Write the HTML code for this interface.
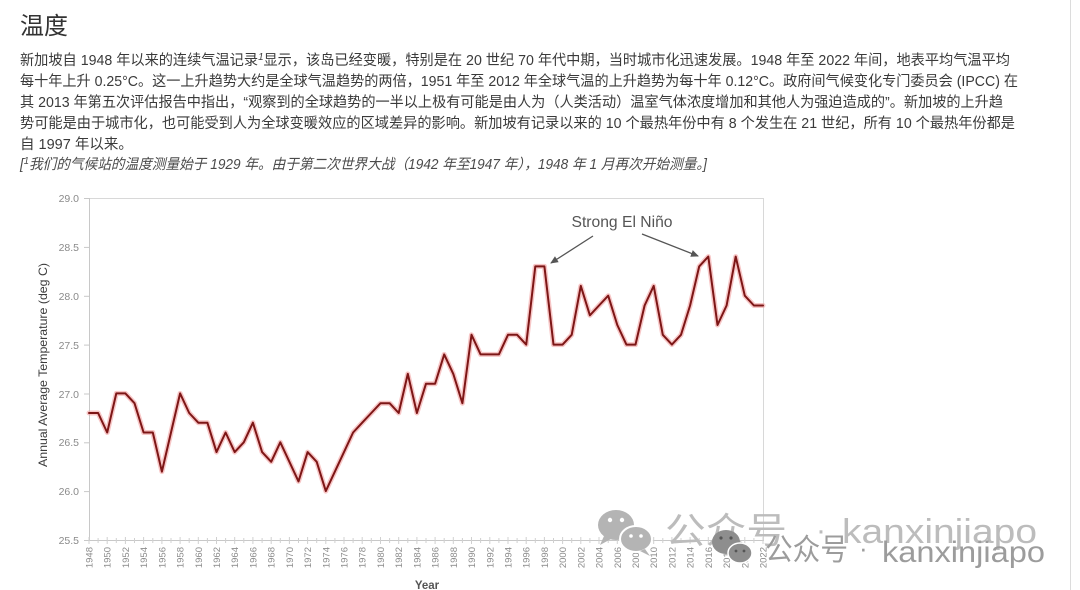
<!DOCTYPE html>
<html>
<head>
<meta charset="utf-8">
<style>
html,body{margin:0;padding:0;background:#fff;}
body{width:1080px;height:590px;overflow:hidden;}
svg{display:block;}
.t{font-family:"Liberation Sans","Noto Sans CJK SC",sans-serif;}
</style>
</head>
<body>
<svg width="1080" height="590" viewBox="0 0 1080 590" xmlns="http://www.w3.org/2000/svg">
<defs>
<marker id="ah" markerWidth="8" markerHeight="8" refX="7" refY="4" orient="auto" markerUnits="userSpaceOnUse">
<path d="M0,0.5 L8,4 L0,7.5 Z" fill="#555"/>
</marker>
</defs>
<rect x="0" y="0" width="1080" height="590" fill="#fff"/>
<line x1="1070.5" y1="0" x2="1070.5" y2="590" stroke="#dcdcdc" stroke-width="1"/>

<!-- Title & text -->
<text class="t" x="20" y="34" font-size="24" fill="#333">温度</text>
<g class="t" font-size="14.5" fill="#3a3a3a">
<text x="20" y="65" textLength="990" lengthAdjust="spacingAndGlyphs">新加坡自 1948 年以来的连续气温记录<tspan font-style="italic" font-size="10" dy="-5">1</tspan><tspan dy="5">显示，该岛已经变暖，特别是在 20 世纪 70 年代中期，当时城市化迅速发展。1948 年至 2022 年间，地表平均气温平均</tspan></text>
<text x="20" y="86" textLength="998" lengthAdjust="spacingAndGlyphs">每十年上升 0.25°C。这一上升趋势大约是全球气温趋势的两倍，1951 年至 2012 年全球气温的上升趋势为每十年 0.12°C。政府间气候变化专门委员会 (IPCC) 在</text>
<text x="20" y="107" textLength="983" lengthAdjust="spacingAndGlyphs">其 2013 年第五次评估报告中指出，“观察到的全球趋势的一半以上极有可能是由人为（人类活动）温室气体浓度增加和其他人为强迫造成的”。新加坡的上升趋</text>
<text x="20" y="128" textLength="995" lengthAdjust="spacingAndGlyphs">势可能是由于城市化，也可能受到人为全球变暖效应的区域差异的影响。新加坡有记录以来的 10 个最热年份中有 8 个发生在 21 世纪，所有 10 个最热年份都是</text>
<text x="20" y="149">自 1997 年以来。</text>
<text x="20" y="169" textLength="687" lengthAdjust="spacingAndGlyphs" font-style="italic" fill="#4a4a4a">[<tspan font-size="10" dy="-5">1</tspan><tspan dy="5">我们的气候站的温度测量始于 1929 年。由于第二次世界大战（1942 年至1947 年），1948 年 1 月再次开始测量。]</tspan></text>
</g>

<!-- Plot frame -->
<line x1="89" y1="198.5" x2="763" y2="198.5" stroke="#d8d8d8" stroke-width="1"/>
<line x1="763.5" y1="198" x2="763.5" y2="540" stroke="#d8d8d8" stroke-width="1"/>
<line x1="89.5" y1="198" x2="89.5" y2="541" stroke="#c8c8c8" stroke-width="1"/>
<line x1="89" y1="540.5" x2="764" y2="540.5" stroke="#c8c8c8" stroke-width="1"/>

<!-- y ticks -->
<g stroke="#c8c8c8" stroke-width="1">
<line x1="84" y1="198.5" x2="89" y2="198.5"/>
<line x1="84" y1="247.4" x2="89" y2="247.4"/>
<line x1="84" y1="296.3" x2="89" y2="296.3"/>
<line x1="84" y1="345.1" x2="89" y2="345.1"/>
<line x1="84" y1="394" x2="89" y2="394"/>
<line x1="84" y1="442.8" x2="89" y2="442.8"/>
<line x1="84" y1="491.6" x2="89" y2="491.6"/>
<line x1="84" y1="540.5" x2="89" y2="540.5"/>
</g>
<g class="t" font-size="10.5" fill="#8a8a8a" text-anchor="end">
<text x="79" y="202">29.0</text>
<text x="79" y="251">28.5</text>
<text x="79" y="300">28.0</text>
<text x="79" y="349">27.5</text>
<text x="79" y="398">27.0</text>
<text x="79" y="446">26.5</text>
<text x="79" y="495">26.0</text>
<text x="79" y="544">25.5</text>
</g>
<text class="t" font-size="12" fill="#3c3c3c" text-anchor="middle" transform="translate(47,365) rotate(-90)" textLength="204" lengthAdjust="spacingAndGlyphs">Annual Average Temperature (deg C)</text>

<!-- x ticks -->
<g stroke="#d0d0d0" stroke-width="1">
<path d="M89,537V544M98.1,538V543M107.2,537V544M116.3,538V543M125.4,537V544M134.5,538V543M143.6,537V544M152.8,538V543M161.9,537V544M171,538V543M180.1,537V544M189.2,538V543M198.3,537V544M207.4,538V543M216.5,537V544M225.6,538V543M234.7,537V544M243.8,538V543M252.9,537V544M262.1,538V543M271.2,537V544M280.3,538V543M289.4,537V544M298.5,538V543M307.6,537V544M316.7,538V543M325.8,537V544M334.9,538V543M344,537V544M353.1,538V543M362.2,537V544M371.3,538V543M380.5,537V544M389.6,538V543M398.7,537V544M407.8,538V543M416.9,537V544M426,538V543M435.1,537V544M444.2,538V543M453.3,537V544M462.4,538V543M471.5,537V544M480.6,538V543M489.8,537V544M498.9,538V543M508,537V544M517.1,538V543M526.2,537V544M535.3,538V543M544.4,537V544M553.5,538V543M562.6,537V544M571.7,538V543M580.8,537V544M589.9,538V543M599,537V544M608.2,538V543M617.3,537V544M626.4,538V543M635.5,537V544M644.6,538V543M653.7,537V544M662.8,538V543M671.9,537V544M681,538V543M690.1,537V544M699.2,538V543M708.3,537V544M717.5,538V543M726.6,537V544M735.7,538V543M744.8,537V544M753.9,538V543M763,537V544"/>
</g>

<!-- x labels -->
<g class="t" font-size="9.5" fill="#8c8c8c" text-anchor="end">
<text transform="translate(92.5,547) rotate(-90)">1948</text>
<text transform="translate(110.7,547) rotate(-90)">1950</text>
<text transform="translate(128.9,547) rotate(-90)">1952</text>
<text transform="translate(147.1,547) rotate(-90)">1954</text>
<text transform="translate(165.4,547) rotate(-90)">1956</text>
<text transform="translate(183.6,547) rotate(-90)">1958</text>
<text transform="translate(201.8,547) rotate(-90)">1960</text>
<text transform="translate(220,547) rotate(-90)">1962</text>
<text transform="translate(238.2,547) rotate(-90)">1964</text>
<text transform="translate(256.4,547) rotate(-90)">1966</text>
<text transform="translate(274.7,547) rotate(-90)">1968</text>
<text transform="translate(292.9,547) rotate(-90)">1970</text>
<text transform="translate(311.1,547) rotate(-90)">1972</text>
<text transform="translate(329.3,547) rotate(-90)">1974</text>
<text transform="translate(347.5,547) rotate(-90)">1976</text>
<text transform="translate(365.7,547) rotate(-90)">1978</text>
<text transform="translate(384,547) rotate(-90)">1980</text>
<text transform="translate(402.2,547) rotate(-90)">1982</text>
<text transform="translate(420.4,547) rotate(-90)">1984</text>
<text transform="translate(438.6,547) rotate(-90)">1986</text>
<text transform="translate(456.8,547) rotate(-90)">1988</text>
<text transform="translate(475,547) rotate(-90)">1990</text>
<text transform="translate(493.3,547) rotate(-90)">1992</text>
<text transform="translate(511.5,547) rotate(-90)">1994</text>
<text transform="translate(529.7,547) rotate(-90)">1996</text>
<text transform="translate(547.9,547) rotate(-90)">1998</text>
<text transform="translate(566.1,547) rotate(-90)">2000</text>
<text transform="translate(584.3,547) rotate(-90)">2002</text>
<text transform="translate(602.5,547) rotate(-90)">2004</text>
<text transform="translate(620.8,547) rotate(-90)">2006</text>
<text transform="translate(639,547) rotate(-90)">2008</text>
<text transform="translate(657.2,547) rotate(-90)">2010</text>
<text transform="translate(675.4,547) rotate(-90)">2012</text>
<text transform="translate(693.6,547) rotate(-90)">2014</text>
<text transform="translate(711.8,547) rotate(-90)">2016</text>
<text transform="translate(730.1,547) rotate(-90)">2018</text>
<text transform="translate(748.3,547) rotate(-90)">2020</text>
<text transform="translate(766.5,547) rotate(-90)">2022</text>
</g>
<text class="t" x="427" y="589" font-size="11.5" font-weight="bold" fill="#555" text-anchor="middle">Year</text>

<!-- data line -->
<g fill="none" stroke-linejoin="round" stroke-linecap="round">
<polyline stroke="#f2a0a0" stroke-opacity="0.6" stroke-width="5" points="89,413 98.1,413 107.2,432.5 116.3,393.4 125.4,393.4 134.5,403.2 143.6,432.5 152.8,432.5 161.9,471.6 171,432.5 180.1,393.4 189.2,413 198.3,422.7 207.4,422.7 216.5,452.1 225.6,432.5 234.7,452.1 243.8,442.3 252.9,422.7 262.1,452.1 271.2,461.8 280.3,442.3 289.4,461.8 298.5,481.4 307.6,452.1 316.7,461.8 325.8,491.1 334.9,471.6 344,452.1 353.1,432.5 362.2,422.7 371.3,413 380.5,403.2 389.6,403.2 398.7,413 407.8,373.9 416.9,413 426,383.7 435.1,383.7 444.2,354.4 453.3,373.9 462.4,403.2 471.5,334.8 480.6,354.4 489.8,354.4 498.9,354.4 508,334.8 517.1,334.8 526.2,344.6 535.3,266.4 544.4,266.4 553.5,344.6 562.6,344.6 571.7,334.8 580.8,285.9 589.9,315.3 599,305.5 608.2,295.7 617.3,325 626.4,344.6 635.5,344.6 644.6,305.5 653.7,285.9 662.8,334.8 671.9,344.6 681,334.8 690.1,305.5 699.2,266.4 708.3,256.6 717.5,325 726.6,305.5 735.7,256.6 744.8,295.7 753.9,305.5 763,305.5"/>
<polyline stroke="#7d1616" stroke-width="2" points="89,413 98.1,413 107.2,432.5 116.3,393.4 125.4,393.4 134.5,403.2 143.6,432.5 152.8,432.5 161.9,471.6 171,432.5 180.1,393.4 189.2,413 198.3,422.7 207.4,422.7 216.5,452.1 225.6,432.5 234.7,452.1 243.8,442.3 252.9,422.7 262.1,452.1 271.2,461.8 280.3,442.3 289.4,461.8 298.5,481.4 307.6,452.1 316.7,461.8 325.8,491.1 334.9,471.6 344,452.1 353.1,432.5 362.2,422.7 371.3,413 380.5,403.2 389.6,403.2 398.7,413 407.8,373.9 416.9,413 426,383.7 435.1,383.7 444.2,354.4 453.3,373.9 462.4,403.2 471.5,334.8 480.6,354.4 489.8,354.4 498.9,354.4 508,334.8 517.1,334.8 526.2,344.6 535.3,266.4 544.4,266.4 553.5,344.6 562.6,344.6 571.7,334.8 580.8,285.9 589.9,315.3 599,305.5 608.2,295.7 617.3,325 626.4,344.6 635.5,344.6 644.6,305.5 653.7,285.9 662.8,334.8 671.9,344.6 681,334.8 690.1,305.5 699.2,266.4 708.3,256.6 717.5,325 726.6,305.5 735.7,256.6 744.8,295.7 753.9,305.5 763,305.5"/>
</g>

<!-- annotation -->
<text class="t" x="571.5" y="227" font-size="16" fill="#555" textLength="101" lengthAdjust="spacingAndGlyphs">Strong El Niño</text>
<line x1="593" y1="236" x2="551" y2="263" stroke="#555" stroke-width="1.3" marker-end="url(#ah)"/>
<line x1="642" y1="234" x2="698" y2="256" stroke="#555" stroke-width="1.3" marker-end="url(#ah)"/>

<!-- watermark 1 (large, light) -->
<g fill="#b4b4b4">
<ellipse cx="616" cy="525" rx="18" ry="15"/>
<path d="M604,536 L600,545 L611,539 Z"/>
<ellipse cx="636" cy="539" rx="16" ry="13" stroke="#fff" stroke-width="2"/>
<path d="M645,549 L650,556 L640,551 Z"/>
</g>
<g fill="#fff">
<circle cx="610" cy="520" r="2.2"/><circle cx="622" cy="520" r="2.2"/>
<circle cx="631" cy="536" r="1.8"/><circle cx="641" cy="536" r="1.8"/>
</g>
<g class="t" fill="#bcbcbc">
<text x="665" y="543" font-size="36" textLength="122" lengthAdjust="spacingAndGlyphs">公众号</text>
<text x="816" y="540" font-size="30">·</text>
<text x="842" y="543" font-size="34" textLength="195" lengthAdjust="spacingAndGlyphs">kanxinjiapo</text>
</g>

<!-- watermark 2 (smaller, darker) -->
<g fill="#8e8e8e">
<ellipse cx="726" cy="542" rx="14" ry="12"/>
<ellipse cx="740" cy="553" rx="12" ry="10" stroke="#fff" stroke-width="1.5"/>
</g>
<g fill="#555">
<circle cx="721" cy="538" r="1.6"/><circle cx="731" cy="538" r="1.6"/>
<circle cx="736" cy="551" r="1.4"/><circle cx="744" cy="551" r="1.4"/>
</g>
<g class="t" fill="#9c9c9c">
<text x="765" y="560" font-size="30" textLength="83" lengthAdjust="spacingAndGlyphs">公众号</text>
<text x="859" y="557" font-size="26">·</text>
<text x="882" y="562" font-size="30" textLength="163" lengthAdjust="spacingAndGlyphs">kanxinjiapo</text>
</g>
</svg>
</body>
</html>
